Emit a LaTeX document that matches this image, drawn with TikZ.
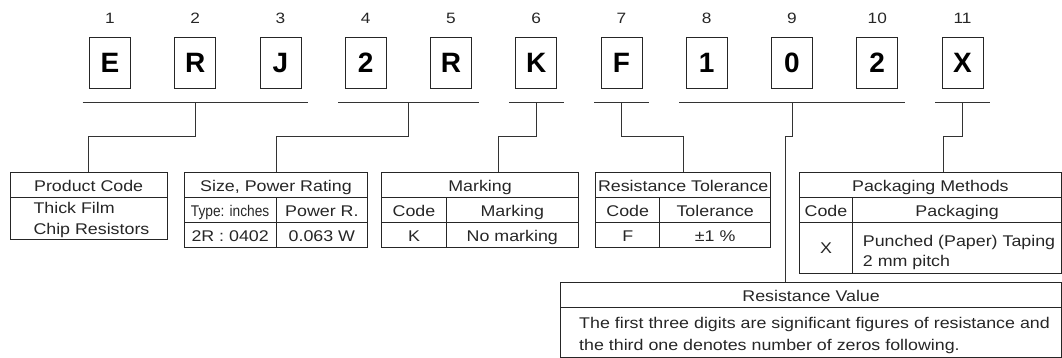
\documentclass[tikz,border=0pt]{standalone}
\usepackage{fontspec}
\usepackage{graphicx}
\setmainfont{Liberation Sans}[FakeStretch=1.15]
\newfontfamily\codefont{Liberation Sans}
\usetikzlibrary{calc}
\tikzset{
  boxlet/.style={draw=black!85, line width=1pt, minimum width=41pt, minimum height=50.6pt, inner sep=0pt, font=\codefont\bfseries\fontsize{28}{28}\selectfont},
  numlbl/.style={font=\fontsize{15}{15}\selectfont, text=black!85, inner sep=0pt, anchor=base},
  tabframe/.style={draw=black!85, line width=1pt, inner sep=0pt, outer sep=0pt, anchor=north west},
  tabtxt/.style={font=\fontsize{15.5}{18}\selectfont, text=black!85, inner sep=0pt, anchor=base},
  tabtxtl/.style={tabtxt, anchor=base west},
  tabline/.style={draw=black!85, line width=1pt},
  link/.style={draw=black!80, line width=1pt},
}
\begin{document}
\begin{tikzpicture}[x=1pt, y=-1pt]
    \useasboundingbox (0,0) rectangle (1062,358);
    \foreach \i/\c in {1/E,2/R,3/J,4/2,5/R,6/K,7/F,8/1,9/0,10/2,11/X} {
        \node[boxlet] (l\i) at ({110+85.25*(\i-1)},63) {\c};
        \node[numlbl] (n\i) at ({110+85.25*(\i-1)},23.3) {\i};
    }
    \foreach \a/\b in {1/3,4/5,6/6,7/7,8/10,11/11}
        \draw[link] ($(l\a.south west)+(-6.5,14)$) -- ($(l\b.south east)+(6.5,14)$);

    \node[tabframe, minimum width=157.3pt, minimum height=66.7pt] (pc) at (10,172.3) {};
    \draw[tabline] (10,197.3) -- (167.3,197.3);
    \node[tabtxt] (pch) at (88.65,191) {Product Code};
    \node[tabtxtl] (pcb1) at (33.3,213.3) {Thick Film};
    \node[tabtxtl] (pcb2) at (33.3,234) {Chip Resistors};

    \node[tabframe, minimum width=183.4pt, minimum height=75.4pt] (sz) at (184.3,172.3) {};
    \draw[tabline] (184.3,197.3) -- (367.7,197.3) (184.3,222.3) -- (367.7,222.3) (276,197.3) -- (276,247.7);
    \node[tabtxt] (szh) at (276,191) {Size, Power Rating};
    \node[tabtxt] (sza) at (230.15,216) {\scalebox{0.77}[1]{Type: inches}};
    \node[tabtxt] (szb) at (321.85,216) {Power R.};
    \node[tabtxt] (szc) at (230.15,241) {2R : 0402};
    \node[tabtxt] (szd) at (321.85,241) {0.063 W};

    \node[tabframe, minimum width=196.6pt, minimum height=75.4pt] (mk) at (381.7,172.3) {};
    \draw[tabline] (381.7,197.3) -- (578.3,197.3) (381.7,222.3) -- (578.3,222.3) (446.3,197.3) -- (446.3,247.7);
    \node[tabtxt] (mkh) at (480,191) {Marking};
    \node[tabtxt] (mka) at (414,216) {Code};
    \node[tabtxt] (mkb) at (512.3,216) {Marking};
    \node[tabtxt] (mkc) at (414,241) {K};
    \node[tabtxt] (mkd) at (512.3,241) {No marking};

    \node[tabframe, minimum width=175pt, minimum height=75.4pt] (tol) at (595.7,172.3) {};
    \draw[tabline] (595.7,197.3) -- (770.7,197.3) (595.7,222.3) -- (770.7,222.3) (659.7,197.3) -- (659.7,247.7);
    \node[tabtxt] (tolh) at (683.2,191) {Resistance Tolerance};
    \node[tabtxt] (tola) at (627.7,216) {Code};
    \node[tabtxt] (tolb) at (715.2,216) {Tolerance};
    \node[tabtxt] (tolc) at (627.7,241) {F};
    \node[tabtxt] (told) at (715.2,241) {±1 \%};

    \node[tabframe, minimum width=262.2pt, minimum height=101pt] (pk) at (799.3,172.3) {};
    \draw[tabline] (799.3,197.3) -- (1061.5,197.3) (799.3,222.3) -- (1061.5,222.3) (852.7,197.3) -- (852.7,273.3);
    \node[tabtxt] (pkh) at (930.4,191) {Packaging Methods};
    \node[tabtxt] (pka) at (826,216) {Code};
    \node[tabtxt] (pkb) at (957.1,216) {Packaging};
    \node[tabtxt] (pkc) at (826,253.8) {X};
    \node[tabtxtl] (pkd1) at (862.7,246) {Punched (Paper) Taping};
    \node[tabtxtl] (pkd2) at (862.7,266.7) {2 mm pitch};

    \node[tabframe, minimum width=500.8pt, minimum height=75pt] (rv) at (560.7,282.3) {};
    \draw[tabline] (560.7,307.3) -- (1061.5,307.3);
    \node[tabtxt] (rvh) at (811.1,301) {Resistance Value};
    \node[tabtxtl] (rvb1) at (579,328.3) {The first three digits are significant figures of resistance and};
    \node[tabtxtl] (rvb2) at (579,350) {the third one denotes number of zeros following.};

    \coordinate (mkin) at ($(mk.north west)+(116.6,0)$);
    \coordinate (pkin) at ($(pk.north west)+(144,0)$);
    \coordinate (rvin) at ($(rv.north west)+(224.3,0)$);
    \draw[link] ($(l2.south)+(0,14)$) -- ++(0,33.4) -| (pc.north);
    \draw[link] ($(l4.south)!0.5!(l5.south)+(0,14)$) -- ++(0,33.4) -| (sz.north);
    \draw[link] ($(l6.south)+(0,14)$) -- ++(0,33.4) -| (mkin);
    \draw[link] ($(l7.south)+(0,14)$) -- ++(0,33.4) -| (tol.north);
    \draw[link] ($(l9.south)+(0,14)$) -- ++(0,33.4) -| (rvin);
    \draw[link] ($(l11.south)+(0,14)$) -- ++(0,33.4) -| (pkin);
\end{tikzpicture}
\end{document}
